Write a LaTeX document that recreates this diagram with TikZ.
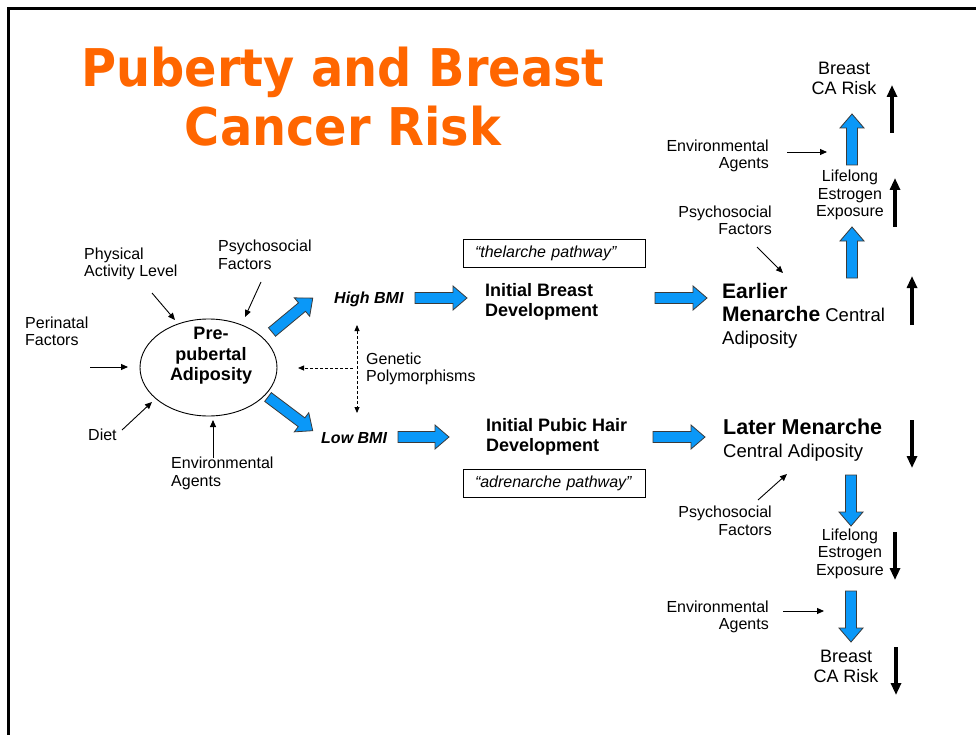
\documentclass[tikz,border=0pt]{standalone}
\usepackage{fontspec}
\setmainfont{Liberation Sans}
\newfontfamily\titlefont{DejaVu Sans}
\usetikzlibrary{arrows.meta,shapes.geometric}

\definecolor{titleorange}{HTML}{FF6600}
\definecolor{flowblue}{HTML}{0A98F8}
\definecolor{flowedge}{HTML}{3A3A3A}

\tikzset{
  txt/.style={inner sep=0pt, font=\fontsize{16}{17.5}\selectfont},
  bigtxt/.style={inner sep=0pt, font=\fontsize{18}{20}\selectfont},
  boldtxt/.style={inner sep=0pt, font=\fontsize{18}{20.5}\selectfont\bfseries},
  bmitxt/.style={inner sep=0pt, font=\fontsize{16}{18}\selectfont\bfseries\itshape},
  pathbox/.style={draw, line width=0.8pt, text width=158pt, inner xsep=12pt,
    minimum height=28pt, inner ysep=0pt, align=left,
    font=\fontsize{16}{18}\selectfont\itshape},
  thinarr/.style={line width=0.9pt, -{Triangle[length=7pt,width=6pt]}},
  dasharr/.style={line width=0.8pt, dash pattern=on 3pt off 2pt,
    -{Triangle[length=6pt,width=5pt]}},
  dashdbl/.style={dasharr, {Triangle[length=6pt,width=5pt]}-{Triangle[length=6pt,width=5pt]}},
  boldarr/.style={line width=3.2pt, -{Triangle[length=12pt,width=10pt]}},
  fatstyle/.style={fill=flowblue, draw=flowedge, line width=0.8pt, line join=miter},
  pics/fatarrow/.style={code={
    \draw[fatstyle] (0,-5.5) -- (#1-14,-5.5) -- (#1-14,-12) -- (#1,0)
      -- (#1-14,12) -- (#1-14,5.5) -- (0,5.5) -- cycle;}}
}

\begin{document}
\begin{tikzpicture}[x=1pt,y=-1pt]
\useasboundingbox (0,0) rectangle (976,735);

% slide frame (top and left edges)
\draw[line width=2.6pt] (8.7,735) -- (8.7,8.7) -- (976,8.7);

% title
\node[inner sep=0pt, align=center, text=titleorange, xscale=0.92, transform shape,
      font=\titlefont\fontsize{52}{59}\selectfont\bfseries] (title) at (343,97)
  {Puberty and Breast\\Cancer Risk};

% ---------- pre-pubertal adiposity and its influences ----------
\node[draw, ellipse, line width=0.9pt, minimum width=137pt, minimum height=97pt,
      inner sep=0pt] (adip) at (208.5,367.5) {};
\node[boldtxt, align=center] (adiptxt) at (211,356) {Pre-\\pubertal\\Adiposity};

\node[txt, anchor=west, align=left] (perinatal) at (25,331.5) {Perinatal\\Factors};
\node[txt, anchor=west, align=left] (physical) at (84,264) {Physical\\Activity Level};
\node[txt, anchor=west, align=left] (psychL) at (218,255) {Psychosocial\\Factors};
\node[txt, anchor=west] (diet) at (88,435) {Diet};
\node[txt, anchor=west, align=left] (envL) at (171,473.5) {Environmental\\Agents};
\node[txt, anchor=west, align=left] (genetic) at (366,369) {Genetic\\Polymorphisms};

\coordinate (peri-s) at (90,367);   \coordinate (peri-e) at (128,367);
\coordinate (phys-s) at (152,293);  \coordinate (phys-e) at (175,320);
\coordinate (psyL-s) at (261,282);  \coordinate (psyL-e) at (245,317);
\coordinate (diet-s) at (122,430);  \coordinate (diet-e) at (152,402);
\coordinate (envL-s) at (213,458);  \coordinate (envL-e) at (213,420);
\draw[thinarr] (peri-s) -- (peri-e);
\draw[thinarr] (phys-s) -- (phys-e);
\draw[thinarr] (psyL-s) -- (psyL-e);
\draw[thinarr] (diet-s) -- (diet-e);
\draw[thinarr] (envL-s) -- (envL-e);

% genetic polymorphisms (dashed)
\coordinate (gen-h) at (353,368);  \coordinate (gen-he) at (298,368);
\coordinate (gen-t) at (357,325);  \coordinate (gen-b) at (357,413);
\draw[dasharr] (gen-h) -- (gen-he);
\draw[dashdbl] (gen-t) -- (gen-b);

% BMI branches
\node[bmitxt, anchor=west] (high) at (334,299) {High BMI};
\node[bmitxt, anchor=west] (low) at (321,438) {Low BMI};
\pic[rotate=39.7] at (272,332) {fatarrow=53};
\pic[rotate=-37] at (268,397) {fatarrow=56};
\pic at (415,298) {fatarrow=52};
\pic at (398,437) {fatarrow=51};

% ---------- pathways ----------
\node[pathbox] (thel) at (554,253) {“thelarche pathway”};
\node[pathbox] (adren) at (554,483) {“adrenarche pathway”};
\node[boldtxt, anchor=west, align=left] (breastdev) at (485,302) {Initial Breast\\Development};
\node[boldtxt, anchor=west, align=left] (pubicdev) at (486,437) {Initial Pubic Hair\\Development};
\pic at (655,298) {fatarrow=52};
\pic at (653,437) {fatarrow=52};

% ---------- earlier menarche branch ----------
\node[inner sep=0pt, anchor=west, align=left, font=\fontsize{18.5}{23}\selectfont] (earlier) at (722,316)
  {{\fontsize{21}{23}\selectfont\bfseries Earlier}\\{\fontsize{21}{23}\selectfont\bfseries Menarche} Central\\Adiposity};
\node[txt, anchor=east, align=right] (psychUp) at (772,220.5) {Psychosocial\\Factors};
\node[txt, align=center] (lifeUp) at (850,195) {Lifelong\\Estrogen\\Exposure};
\node[txt, anchor=east, align=right] (envUp) at (769,156) {Environmental\\Agents};
\node[bigtxt, align=center] (riskUp) at (844,78) {Breast\\CA Risk};

\pic[rotate=90] at (852,278) {fatarrow=51};
\pic[rotate=90] at (852,165) {fatarrow=51};

\coordinate (psyU-s) at (757,247);  \coordinate (psyU-e) at (783,273);
\coordinate (envU-s) at (787,152);  \coordinate (envU-e) at (827,152);
\draw[thinarr] (psyU-s) -- (psyU-e);
\draw[thinarr] (envU-s) -- (envU-e);

\coordinate (up1-s) at (912,325);  \coordinate (up1-e) at (912,276);
\coordinate (up2-s) at (895,227);  \coordinate (up2-e) at (895,178);
\coordinate (up3-s) at (892,133);  \coordinate (up3-e) at (892,85);
\draw[boldarr] (up1-s) -- (up1-e);
\draw[boldarr] (up2-s) -- (up2-e);
\draw[boldarr] (up3-s) -- (up3-e);

% ---------- later menarche branch ----------
\node[inner sep=0pt, anchor=west, align=left, font=\fontsize{18.5}{23}\selectfont] (later) at (723,440.5)
  {{\fontsize{21.5}{23}\selectfont\bfseries Later Menarche}\\Central Adiposity};
\node[txt, anchor=east, align=right] (psychDn) at (772,521) {Psychosocial\\Factors};
\node[txt, align=center] (lifeDn) at (850,553.5) {Lifelong\\Estrogen\\Exposure};
\node[txt, anchor=east, align=right] (envDn) at (769,617) {Environmental\\Agents};
\node[inner sep=0pt, align=center, font=\fontsize{18}{19.5}\selectfont] (riskDn) at (846,666.5) {Breast\\CA Risk};

\pic[rotate=-90] at (851,475) {fatarrow=51};
\pic[rotate=-90] at (851,591) {fatarrow=51};

\coordinate (psyD-s) at (758,500);  \coordinate (psyD-e) at (787,474);
\coordinate (envD-s) at (783,611);  \coordinate (envD-e) at (824,611);
\draw[thinarr] (psyD-s) -- (psyD-e);
\draw[thinarr] (envD-s) -- (envD-e);

\coordinate (dn1-s) at (912,420);  \coordinate (dn1-e) at (912,468);
\coordinate (dn2-s) at (895,532);  \coordinate (dn2-e) at (895,580);
\coordinate (dn3-s) at (896,647);  \coordinate (dn3-e) at (896,695);
\draw[boldarr] (dn1-s) -- (dn1-e);
\draw[boldarr] (dn2-s) -- (dn2-e);
\draw[boldarr] (dn3-s) -- (dn3-e);
\end{tikzpicture}
\end{document}
